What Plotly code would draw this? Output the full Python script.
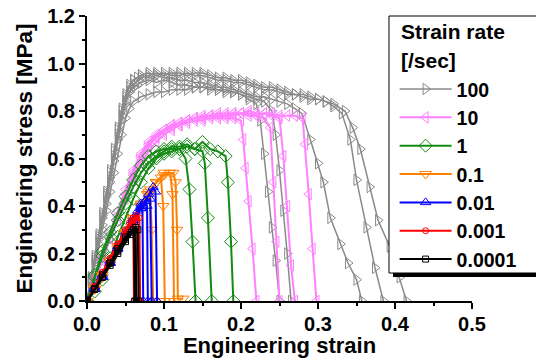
import plotly.graph_objects as go

# ---------------- data (strain, stress) ----------------
rates = ["100", "10", "1", "0.1", "0.01", "0.001", "0.0001"]
legend_title_lines = ["Strain rate", "[/sec]"]

# 100 /sec
r100_c1_x = [0, 0.005, 0.01, 0.015, 0.02, 0.025, 0.03, 0.035, 0.04, 0.045, 0.05, 0.055, 0.06, 0.07, 0.08, 0.09, 0.1, 0.11, 0.12, 0.13, 0.14, 0.15, 0.16, 0.17, 0.18, 0.19, 0.2, 0.21, 0.22, 0.225, 0.23, 0.235, 0.24, 0.245, 0.25]
r100_c1_y = [0, 0.07, 0.15, 0.22, 0.3, 0.38, 0.46, 0.54, 0.62, 0.7, 0.77, 0.81, 0.84, 0.86, 0.87, 0.88, 0.88, 0.89, 0.89, 0.89, 0.9, 0.9, 0.89, 0.89, 0.88, 0.88, 0.87, 0.85, 0.83, 0.76, 0.62, 0.46, 0.31, 0.17, 0]
r100_c2_x = [0, 0.005, 0.01, 0.015, 0.02, 0.025, 0.03, 0.035, 0.04, 0.045, 0.05, 0.055, 0.06, 0.065, 0.07, 0.08, 0.09, 0.1, 0.11, 0.12, 0.13, 0.14, 0.15, 0.16, 0.17, 0.18, 0.19, 0.2, 0.21, 0.22, 0.23, 0.24, 0.245, 0.25, 0.255, 0.26, 0.265]
r100_c2_y = [0, 0.09, 0.17, 0.26, 0.35, 0.44, 0.52, 0.61, 0.7, 0.78, 0.84, 0.88, 0.9, 0.91, 0.92, 0.93, 0.92, 0.93, 0.92, 0.91, 0.91, 0.9, 0.9, 0.9, 0.89, 0.89, 0.88, 0.87, 0.86, 0.85, 0.84, 0.8, 0.7, 0.55, 0.38, 0.2, 0]
r100_c3_x = [0, 0.005, 0.01, 0.015, 0.02, 0.025, 0.03, 0.035, 0.04, 0.045, 0.05, 0.055, 0.06, 0.065, 0.07, 0.08, 0.09, 0.1, 0.11, 0.12, 0.13, 0.14, 0.15, 0.16, 0.17, 0.18, 0.19, 0.2, 0.21, 0.22, 0.23, 0.24, 0.25, 0.26, 0.27, 0.279, 0.29, 0.3, 0.307, 0.316, 0.329, 0.339, 0.35, 0.357]
r100_c3_y = [0, 0.1, 0.19, 0.28, 0.37, 0.46, 0.55, 0.64, 0.73, 0.81, 0.87, 0.91, 0.93, 0.94, 0.95, 0.94, 0.95, 0.94, 0.94, 0.93, 0.93, 0.92, 0.92, 0.91, 0.9, 0.9, 0.89, 0.88, 0.87, 0.86, 0.86, 0.85, 0.84, 0.83, 0.81, 0.79, 0.68, 0.58, 0.5, 0.35, 0.24, 0.16, 0.09, 0]
r100_c4_x = [0, 0.005, 0.01, 0.015, 0.02, 0.025, 0.03, 0.035, 0.04, 0.045, 0.05, 0.055, 0.06, 0.07, 0.08, 0.09, 0.1, 0.11, 0.12, 0.13, 0.14, 0.15, 0.16, 0.17, 0.18, 0.19, 0.2, 0.21, 0.22, 0.23, 0.24, 0.25, 0.26, 0.27, 0.28, 0.29, 0.3, 0.31, 0.32, 0.331, 0.342, 0.35, 0.363, 0.374, 0.385]
r100_c4_y = [0, 0.09, 0.18, 0.27, 0.36, 0.45, 0.54, 0.63, 0.72, 0.8, 0.86, 0.9, 0.93, 0.95, 0.96, 0.95, 0.96, 0.95, 0.95, 0.96, 0.95, 0.95, 0.94, 0.93, 0.93, 0.92, 0.92, 0.91, 0.9, 0.89, 0.89, 0.88, 0.87, 0.87, 0.86, 0.85, 0.85, 0.84, 0.82, 0.79, 0.68, 0.51, 0.31, 0.14, 0]
r100_c5_x = [0, 0.005, 0.01, 0.015, 0.02, 0.025, 0.03, 0.035, 0.04, 0.045, 0.05, 0.055, 0.06, 0.07, 0.08, 0.09, 0.1, 0.11, 0.12, 0.13, 0.14, 0.15, 0.16, 0.17, 0.18, 0.19, 0.2, 0.21, 0.22, 0.23, 0.24, 0.25, 0.26, 0.27, 0.28, 0.29, 0.3, 0.31, 0.32, 0.335, 0.345, 0.355, 0.367, 0.378, 0.393, 0.406, 0.415]
r100_c5_y = [0, 0.08, 0.16, 0.24, 0.32, 0.41, 0.5, 0.59, 0.68, 0.76, 0.83, 0.88, 0.91, 0.94, 0.95, 0.96, 0.95, 0.96, 0.96, 0.95, 0.96, 0.96, 0.95, 0.94, 0.94, 0.93, 0.93, 0.92, 0.91, 0.9, 0.9, 0.89, 0.88, 0.87, 0.87, 0.86, 0.85, 0.84, 0.83, 0.8, 0.73, 0.64, 0.48, 0.34, 0.23, 0.1, 0]

# 10 /sec
r10_c1_x = [0, 0.01, 0.02, 0.03, 0.04, 0.05, 0.06, 0.07, 0.08, 0.09, 0.1, 0.11, 0.12, 0.13, 0.14, 0.15, 0.16, 0.17, 0.18, 0.19, 0.2, 0.203, 0.206, 0.21, 0.215, 0.22]
r10_c1_y = [0, 0.09, 0.18, 0.27, 0.36, 0.45, 0.54, 0.61, 0.66, 0.69, 0.71, 0.73, 0.74, 0.75, 0.76, 0.76, 0.77, 0.77, 0.77, 0.77, 0.76, 0.68, 0.56, 0.42, 0.22, 0]
r10_c2_x = [0, 0.01, 0.02, 0.03, 0.04, 0.05, 0.06, 0.07, 0.08, 0.09, 0.1, 0.11, 0.12, 0.13, 0.14, 0.15, 0.16, 0.17, 0.18, 0.19, 0.2, 0.21, 0.22, 0.23, 0.238, 0.242, 0.246, 0.25]
r10_c2_y = [0, 0.08, 0.17, 0.26, 0.34, 0.43, 0.51, 0.58, 0.63, 0.67, 0.7, 0.72, 0.74, 0.76, 0.77, 0.77, 0.78, 0.78, 0.78, 0.79, 0.79, 0.78, 0.78, 0.77, 0.73, 0.5, 0.25, 0]
r10_c3_x = [0, 0.01, 0.02, 0.03, 0.04, 0.05, 0.06, 0.07, 0.08, 0.09, 0.1, 0.11, 0.12, 0.13, 0.14, 0.15, 0.16, 0.17, 0.18, 0.19, 0.2, 0.21, 0.22, 0.23, 0.24, 0.25, 0.255, 0.26, 0.265, 0.27]
r10_c3_y = [0, 0.1, 0.19, 0.29, 0.38, 0.47, 0.55, 0.62, 0.67, 0.7, 0.72, 0.74, 0.75, 0.76, 0.77, 0.77, 0.78, 0.78, 0.78, 0.78, 0.79, 0.79, 0.78, 0.79, 0.78, 0.77, 0.61, 0.4, 0.15, 0]
r10_c4_x = [0, 0.01, 0.02, 0.03, 0.04, 0.05, 0.06, 0.07, 0.08, 0.09, 0.1, 0.11, 0.12, 0.13, 0.14, 0.15, 0.16, 0.17, 0.18, 0.19, 0.2, 0.21, 0.22, 0.23, 0.24, 0.25, 0.26, 0.27, 0.28, 0.283, 0.288, 0.293, 0.298]
r10_c4_y = [0, 0.09, 0.18, 0.27, 0.36, 0.45, 0.53, 0.6, 0.65, 0.69, 0.72, 0.74, 0.75, 0.76, 0.77, 0.78, 0.78, 0.79, 0.79, 0.79, 0.79, 0.8, 0.79, 0.79, 0.79, 0.78, 0.78, 0.78, 0.77, 0.66, 0.45, 0.22, 0]

# 1 /sec
r1_c1_x = [0, 0.01, 0.02, 0.03, 0.04, 0.05, 0.06, 0.07, 0.08, 0.09, 0.1, 0.11, 0.12, 0.128, 0.133, 0.137, 0.141]
r1_c1_y = [0, 0.04, 0.09, 0.18, 0.27, 0.35, 0.43, 0.5, 0.56, 0.6, 0.62, 0.63, 0.64, 0.6, 0.47, 0.25, 0]
r1_c2_x = [0, 0.01, 0.02, 0.03, 0.04, 0.05, 0.06, 0.07, 0.08, 0.09, 0.1, 0.11, 0.12, 0.13, 0.14, 0.15, 0.153, 0.157, 0.162]
r1_c2_y = [0, 0.1, 0.19, 0.27, 0.34, 0.41, 0.48, 0.54, 0.58, 0.61, 0.63, 0.65, 0.65, 0.66, 0.64, 0.63, 0.58, 0.35, 0]
r1_c3_x = [0, 0.01, 0.02, 0.03, 0.04, 0.05, 0.06, 0.07, 0.08, 0.09, 0.1, 0.11, 0.12, 0.13, 0.14, 0.15, 0.16, 0.17, 0.18, 0.183, 0.187, 0.19]
r1_c3_y = [0, 0.11, 0.21, 0.29, 0.37, 0.44, 0.51, 0.57, 0.61, 0.63, 0.64, 0.64, 0.64, 0.65, 0.64, 0.67, 0.64, 0.63, 0.61, 0.5, 0.25, 0]

# 0.1 /sec
r01_c1_x = [0, 0.01, 0.02, 0.03, 0.04, 0.05, 0.06, 0.07, 0.078, 0.082, 0.084, 0.086]
r01_c1_y = [0, 0.05, 0.1, 0.16, 0.22, 0.28, 0.34, 0.4, 0.45, 0.47, 0.3, 0]
r01_c2_x = [0, 0.01, 0.02, 0.03, 0.04, 0.05, 0.06, 0.07, 0.08, 0.09, 0.096, 0.099, 0.101]
r01_c2_y = [0, 0.06, 0.11, 0.17, 0.23, 0.29, 0.35, 0.4, 0.45, 0.5, 0.52, 0.4, 0]
r01_c3_x = [0, 0.01, 0.02, 0.03, 0.04, 0.05, 0.06, 0.07, 0.08, 0.09, 0.1, 0.108, 0.111, 0.113]
r01_c3_y = [0, 0.05, 0.11, 0.17, 0.23, 0.29, 0.35, 0.41, 0.46, 0.5, 0.54, 0.54, 0.45, 0]
r01_c4_x = [0, 0.01, 0.02, 0.03, 0.04, 0.05, 0.06, 0.07, 0.08, 0.09, 0.1, 0.112, 0.115, 0.117, 0.118, 0.125]
r01_c4_y = [0, 0.05, 0.1, 0.16, 0.22, 0.28, 0.34, 0.4, 0.45, 0.5, 0.53, 0.54, 0.5, 0.3, 0.01, 0.01]

# 0.01 /sec
r001_c1_x = [0, 0.01, 0.02, 0.03, 0.04, 0.05, 0.06, 0.066, 0.07, 0.072, 0.073]
r001_c1_y = [0, 0.05, 0.1, 0.16, 0.22, 0.28, 0.34, 0.38, 0.41, 0.4, 0]
r001_c2_x = [0, 0.01, 0.02, 0.03, 0.04, 0.05, 0.06, 0.07, 0.076, 0.078, 0.079]
r001_c2_y = [0, 0.06, 0.11, 0.17, 0.23, 0.29, 0.35, 0.4, 0.42, 0.4, 0]
r001_c3_x = [0, 0.01, 0.02, 0.03, 0.04, 0.05, 0.06, 0.07, 0.075, 0.082, 0.084]
r001_c3_y = [0, 0.05, 0.1, 0.16, 0.22, 0.28, 0.34, 0.39, 0.42, 0.43, 0]
r001_c4_x = [0, 0.01, 0.02, 0.03, 0.04, 0.05, 0.06, 0.07, 0.08, 0.086, 0.089, 0.091]
r001_c4_y = [0, 0.05, 0.1, 0.16, 0.22, 0.28, 0.33, 0.39, 0.45, 0.48, 0.46, 0]

# 0.001 /sec
r0001_c1_x = [0, 0.01, 0.02, 0.03, 0.04, 0.05, 0.055, 0.06, 0.061]
r0001_c1_y = [0, 0.06, 0.12, 0.18, 0.24, 0.3, 0.33, 0.34, 0]
r0001_c2_x = [0, 0.01, 0.02, 0.03, 0.04, 0.05, 0.06, 0.063, 0.064]
r0001_c2_y = [0, 0.06, 0.12, 0.18, 0.24, 0.3, 0.35, 0.35, 0]
r0001_c3_x = [0, 0.01, 0.02, 0.03, 0.04, 0.05, 0.06, 0.065, 0.068, 0.069]
r0001_c3_y = [0, 0.05, 0.11, 0.17, 0.23, 0.28, 0.34, 0.36, 0.35, 0]

# 0.0001 /sec
r00001_c1_x = [0, 0.01, 0.02, 0.03, 0.04, 0.05, 0.058, 0.061, 0.062]
r00001_c1_y = [0, 0.05, 0.1, 0.16, 0.21, 0.26, 0.29, 0.3, 0]
r00001_c2_x = [0, 0.01, 0.02, 0.03, 0.04, 0.05, 0.06, 0.063, 0.064]
r00001_c2_y = [0, 0.05, 0.11, 0.16, 0.22, 0.27, 0.3, 0.31, 0]
r00001_c3_x = [0, 0.01, 0.02, 0.03, 0.04, 0.05, 0.056, 0.063, 0.066, 0.067]
r00001_c3_y = [0, 0.05, 0.1, 0.15, 0.2, 0.25, 0.28, 0.31, 0.3, 0]

curves = {
    "100": [(r100_c1_x, r100_c1_y), (r100_c2_x, r100_c2_y), (r100_c3_x, r100_c3_y), (r100_c4_x, r100_c4_y), (r100_c5_x, r100_c5_y)],
    "10": [(r10_c1_x, r10_c1_y), (r10_c2_x, r10_c2_y), (r10_c3_x, r10_c3_y), (r10_c4_x, r10_c4_y)],
    "1": [(r1_c1_x, r1_c1_y), (r1_c2_x, r1_c2_y), (r1_c3_x, r1_c3_y)],
    "0.1": [(r01_c1_x, r01_c1_y), (r01_c2_x, r01_c2_y), (r01_c3_x, r01_c3_y), (r01_c4_x, r01_c4_y)],
    "0.01": [(r001_c1_x, r001_c1_y), (r001_c2_x, r001_c2_y), (r001_c3_x, r001_c3_y), (r001_c4_x, r001_c4_y)],
    "0.001": [(r0001_c1_x, r0001_c1_y), (r0001_c2_x, r0001_c2_y), (r0001_c3_x, r0001_c3_y)],
    "0.0001": [(r00001_c1_x, r00001_c1_y), (r00001_c2_x, r00001_c2_y), (r00001_c3_x, r00001_c3_y)],
}

# ---------------- styles ----------------
styles = {
    "100": dict(color="#8a8a8a", symbol="triangle-right-open", size=10, lw=1.5),
    "10": dict(color="#ff80ff", symbol="triangle-left-open", size=10, lw=2),
    "1": dict(color="#138a13", symbol="diamond-open", size=10, lw=2),
    "0.1": dict(color="#ff8000", symbol="triangle-down-open", size=10, lw=2),
    "0.01": dict(color="#0000ff", symbol="triangle-up-open", size=9, lw=2),
    "0.001": dict(color="#ff0000", symbol="circle-open", size=6, lw=2),
    "0.0001": dict(color="#000000", symbol="square-open", size=6, lw=2),
}

FONT = "Liberation Sans, Arial, sans-serif"

fig = go.Figure()
for r in rates:
    st = styles[r]
    for i, (xs, ys) in enumerate(curves[r]):
        fig.add_trace(go.Scatter(
            x=xs, y=ys, mode="lines+markers", name=r,
            legendgroup=r, showlegend=(i == 0),
            line=dict(color=st["color"], width=st["lw"]),
            marker=dict(symbol=st["symbol"], size=st["size"], color=st["color"],
                        line=dict(width=1, color=st["color"])),
        ))

axis_common = dict(
    showline=True, linecolor="black", linewidth=2, mirror=False,
    showgrid=False, zeroline=False,
    ticks="outside", ticklen=6, tickwidth=2, tickcolor="black",
    tickfont=dict(family=FONT, size=20, color="black", weight="bold"),
    tickformat=".1f",
)

fig.update_layout(
    width=536, height=358,
    margin=dict(l=87, r=64, t=16, b=57, autoexpand=False),
    paper_bgcolor="white", plot_bgcolor="white",
    xaxis=dict(range=[0, 0.5], dtick=0.1, tick0=0, ticklabelstandoff=-2,
               minor=dict(ticks="outside", ticklen=3, tickwidth=2, tickcolor="black", dtick=0.05),
               title=dict(text="Engineering strain", standoff=5,
                          font=dict(family=FONT, size=22, color="black", weight="bold")),
               **axis_common),
    yaxis=dict(range=[0, 1.2], dtick=0.2, tick0=0,
               minor=dict(ticks="outside", ticklen=3, tickwidth=2, tickcolor="black", dtick=0.1),
               title=dict(text="Engineering stress [MPa]", standoff=8,
                          font=dict(family=FONT, size=22.5, color="black", weight="bold")),
               **axis_common),
    legend=dict(
        x=0.799, y=0.8112, xanchor="left", yanchor="top",
        bgcolor="rgba(0,0,0,0)", borderwidth=0,
        font=dict(family=FONT, size=19.5, color="black", weight="bold"),
        itemwidth=52, tracegroupgap=0,
    ),
    showlegend=True,
)

# legend frame: drop shadow + white box (legend drawn on top)
fig.add_shape(type="rect", xref="paper", yref="paper",
              x0=0.7948, x1=1.3, y0=0.0842, y1=0.986,
              fillcolor="black", line=dict(width=0), layer="above")
fig.add_shape(type="rect", xref="paper", yref="paper",
              x0=0.7844, x1=1.3, y0=0.0982, y1=1.0,
              fillcolor="white", line=dict(width=1, color="black"), layer="above")

# legend title (two lines)
for txt, yp in zip(legend_title_lines, [0.9439, 0.8456]):
    fig.add_annotation(text=txt, xref="paper", yref="paper", x=0.8104, y=yp,
                       xanchor="left", yanchor="middle", showarrow=False,
                       font=dict(family=FONT, size=21, color="black", weight="bold"))

fig.write_html("out.html")
